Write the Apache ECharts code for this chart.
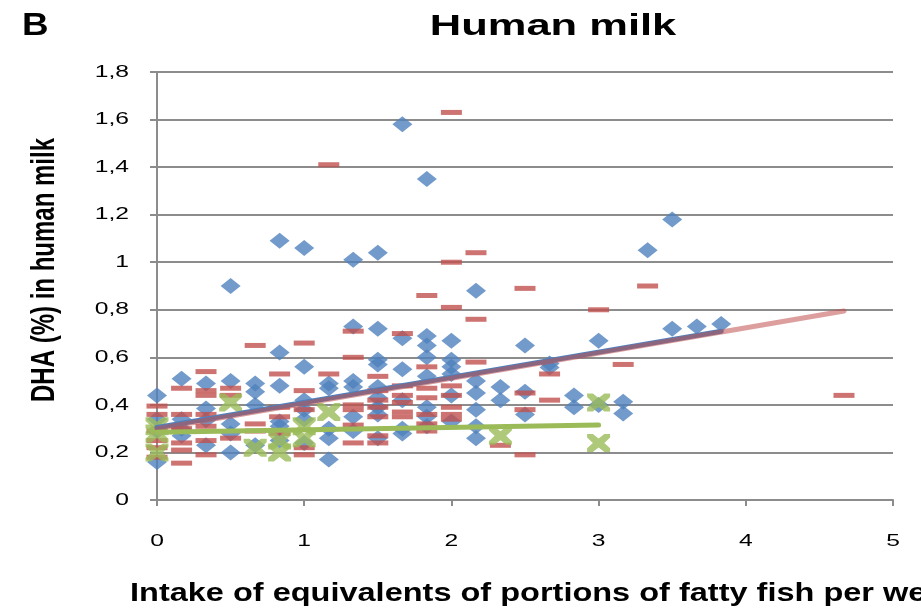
<!DOCTYPE html>
<html>
<head>
<meta charset="utf-8">
<script src="https://cdn.jsdelivr.net/npm/echarts@6/dist/echarts.min.js"></script>
<style>
html,body{margin:0;padding:0;background:#fff;}
#chart{width:921px;height:610px;}
</style>
</head>
<body>
<div id="chart"></div>
<script>
// ---- Data ----
var xTicks = [0, 1, 2, 3, 4, 5];
var yTicks = [0, 0.2, 0.4, 0.6, 0.8, 1, 1.2, 1.4, 1.6, 1.8];

// Blue diamonds
var bluePoints = [
  [0,0.44],[0,0.34],[0,0.29],[0,0.16],
  [0.167,0.51],[0.167,0.34],[0.167,0.30],[0.167,0.27],
  [0.333,0.49],[0.333,0.385],[0.333,0.335],[0.333,0.23],
  [0.5,0.90],[0.5,0.50],[0.5,0.32],[0.5,0.28],[0.5,0.20],
  [0.667,0.49],[0.667,0.455],[0.667,0.40],[0.667,0.23],
  [0.833,1.09],[0.833,0.62],[0.833,0.48],[0.833,0.33],[0.833,0.31],[0.833,0.25],
  [1,1.06],[1,0.56],[1,0.42],[1,0.38],[1,0.34],[1,0.24],
  [1.167,0.49],[1.167,0.47],[1.167,0.30],[1.167,0.26],[1.167,0.17],
  [1.333,1.01],[1.333,0.73],[1.333,0.50],[1.333,0.475],[1.333,0.35],[1.333,0.29],
  [1.5,1.04],[1.5,0.72],[1.5,0.59],[1.5,0.57],[1.5,0.475],[1.5,0.43],[1.5,0.39],[1.5,0.36],[1.5,0.26],
  [1.667,1.58],[1.667,0.68],[1.667,0.55],[1.667,0.42],[1.667,0.30],[1.667,0.28],
  [1.833,1.35],[1.833,0.69],[1.833,0.65],[1.833,0.60],[1.833,0.52],[1.833,0.39],[1.833,0.35],[1.833,0.31],
  [2,0.67],[2,0.59],[2,0.56],[2,0.53],[2,0.44],[2,0.33],
  [2.167,0.88],[2.167,0.50],[2.167,0.45],[2.167,0.38],[2.167,0.31],[2.167,0.26],
  [2.333,0.475],[2.333,0.42],
  [2.5,0.65],[2.5,0.455],[2.5,0.36],
  [2.667,0.574],[2.667,0.557],
  [2.833,0.44],[2.833,0.39],
  [3,0.67],[3,0.40],
  [3.167,0.413],[3.167,0.364],
  [3.333,1.05],
  [3.5,1.18],[3.5,0.72],
  [3.667,0.73],
  [3.833,0.74]
];

// Red dashes
var redPoints = [
  [0,0.395],[0,0.36],[0,0.29],[0,0.25],[0,0.22],[0,0.18],
  [0.167,0.47],[0.167,0.36],[0.167,0.30],[0.167,0.24],[0.167,0.21],[0.167,0.155],
  [0.333,0.54],[0.333,0.46],[0.333,0.44],[0.333,0.36],[0.333,0.31],[0.333,0.25],[0.333,0.19],
  [0.5,0.47],[0.5,0.44],[0.5,0.26],
  [0.667,0.65],[0.667,0.32],[0.667,0.29],
  [0.833,0.53],[0.833,0.39],[0.833,0.35],[0.833,0.28],
  [1,0.66],[1,0.46],[1,0.38],[1,0.22],[1,0.19],
  [1.167,1.41],[1.167,0.53],
  [1.333,0.71],[1.333,0.60],[1.333,0.40],[1.333,0.38],[1.333,0.315],[1.333,0.24],
  [1.5,0.52],[1.5,0.46],[1.5,0.42],[1.5,0.39],[1.5,0.35],[1.5,0.27],[1.5,0.24],
  [1.667,0.70],[1.667,0.48],[1.667,0.44],[1.667,0.41],[1.667,0.37],[1.667,0.35],
  [1.833,0.86],[1.833,0.56],[1.833,0.47],[1.833,0.43],[1.833,0.36],[1.833,0.32],[1.833,0.29],
  [2,1.63],[2,1.00],[2,0.81],[2,0.48],[2,0.44],[2,0.39],[2,0.36],[2,0.34],
  [2.167,1.04],[2.167,0.76],[2.167,0.58],
  [2.333,0.23],
  [2.5,0.89],[2.5,0.45],[2.5,0.38],[2.5,0.19],
  [2.667,0.53],[2.667,0.42],
  [3,0.80],
  [3.167,0.57],
  [3.333,0.90],
  [4.667,0.44]
];

// Green crosses
var greenPoints = [
  [0,0.31],[0,0.28],[0,0.20],
  [0.5,0.41],
  [0.667,0.22],
  [0.833,0.25],[0.833,0.20],
  [1,0.31],[1,0.26],
  [1.167,0.37],
  [2.333,0.27],
  [3,0.41],[3,0.24]
];

// Linear trend lines (end points)
var blueTrend = [[0,0.305],[3.833,0.71]];
var redTrend = [[0,0.30],[4.667,0.795]];
var greenTrend = [[0,0.285],[3,0.315]];

var titleText = 'Human milk';
var panelText = 'B';
var yTitle = 'DHA (%) in human milk';
var xTitle = 'Intake of equivalents of portions of fatty fish per week';

var BLUE = '#4F81BD', RED = '#C0504D', GREEN = '#9BBB59', GRID = '#8C8C8C';
var crossPath = 'path://M0,0 L5,0 L10,5 L15,0 L20,0 L20,4 L15,10 L20,16 L20,20 L15,20 L10,15 L5,20 L0,20 L0,16 L5,10 L0,4 Z';
var STRETCH = 1.45; // reference text is horizontally stretched
var FONT = '"Liberation Sans", Arial, sans-serif';

function fmtNum(v){ return (Math.round(v*10)/10).toString().replace('.', ','); }

var chart = echarts.init(document.getElementById('chart'), null, {renderer:'canvas'});
var option = {
  animation: false,
  backgroundColor: '#fff',
  grid: {left:157, right:28, top:72, bottom:110, containLabel:false},
  xAxis: {
    type:'value', min:xTicks[0], max:xTicks[xTicks.length-1], interval:1,
    axisLine:{show:true, onZero:false, lineStyle:{color:GRID, width:2}},
    axisTick:{show:true, inside:false, length:6, lineStyle:{color:GRID, width:2}},
    splitLine:{show:false},
    axisLabel:{show:false}
  },
  yAxis: {
    type:'value', min:yTicks[0], max:yTicks[yTicks.length-1], interval:0.2,
    axisLine:{show:true, lineStyle:{color:GRID, width:2}},
    axisTick:{show:true, inside:false, length:7, lineStyle:{color:GRID, width:2}},
    splitLine:{show:true, lineStyle:{color:GRID, width:2}},
    axisLabel:{show:false}
  },
  series: [
    {type:'scatter', data:bluePoints, symbol:'diamond', symbolSize:[20,16], itemStyle:{color:BLUE}, z:2},
    {type:'scatter', data:redPoints, symbol:'rect', symbolSize:[21,5], itemStyle:{color:RED}, z:3},
    {type:'scatter', data:greenPoints, symbol:crossPath, symbolSize:[23,18], itemStyle:{color:GREEN}, z:4},
    {type:'line', data:blueTrend, symbol:'none', lineStyle:{color:BLUE, width:5, cap:'round'}, z:5},
    {type:'line', data:redTrend, symbol:'none', lineStyle:{color:RED, width:5, cap:'round', opacity:0.55}, z:6},
    {type:'line', data:greenTrend, symbol:'none', lineStyle:{color:GREEN, width:5, cap:'round'}, z:7}
  ]
};
chart.setOption(option);

// Tick labels and titles, placed through the axis scales, stretched like the reference
var g = [];
yTicks.forEach(function(v){
  var p = chart.convertToPixel({gridIndex:0}, [xTicks[0], v]);
  g.push({type:'text', x:p[0]-28, y:p[1], scaleX:STRETCH, silent:true,
    style:{text:fmtNum(v), font:'17px ' + FONT, fill:'#000', textAlign:'right', textVerticalAlign:'middle'}});
});
xTicks.forEach(function(v){
  var p = chart.convertToPixel({gridIndex:0}, [v, yTicks[0]]);
  g.push({type:'text', x:p[0], y:p[1]+41, scaleX:STRETCH, silent:true,
    style:{text:String(v), font:'17px ' + FONT, fill:'#000', textAlign:'center', textVerticalAlign:'middle'}});
});
g.push({type:'text', x:22, y:26, scaleX:1.15, silent:true,
  style:{text:panelText, font:'bold 32px ' + FONT, fill:'#000', textAlign:'left', textVerticalAlign:'middle'}});
g.push({type:'text', x:553, y:27, scaleX:STRETCH, silent:true,
  style:{text:titleText, font:'bold 30px ' + FONT, fill:'#000', textAlign:'center', textVerticalAlign:'middle'}});
g.push({type:'text', x:45, y:270, rotation:Math.PI/2, scaleY:1.4, silent:true,
  style:{text:yTitle, font:'bold 24px ' + FONT, fill:'#000', textAlign:'center', textVerticalAlign:'middle'}});
g.push({type:'text', x:130, y:594, scaleX:1.3, silent:true,
  style:{text:xTitle, font:'bold 25px ' + FONT, fill:'#000', textAlign:'left', textVerticalAlign:'middle'}});
chart.setOption({graphic: g});
</script>
</body>
</html>
